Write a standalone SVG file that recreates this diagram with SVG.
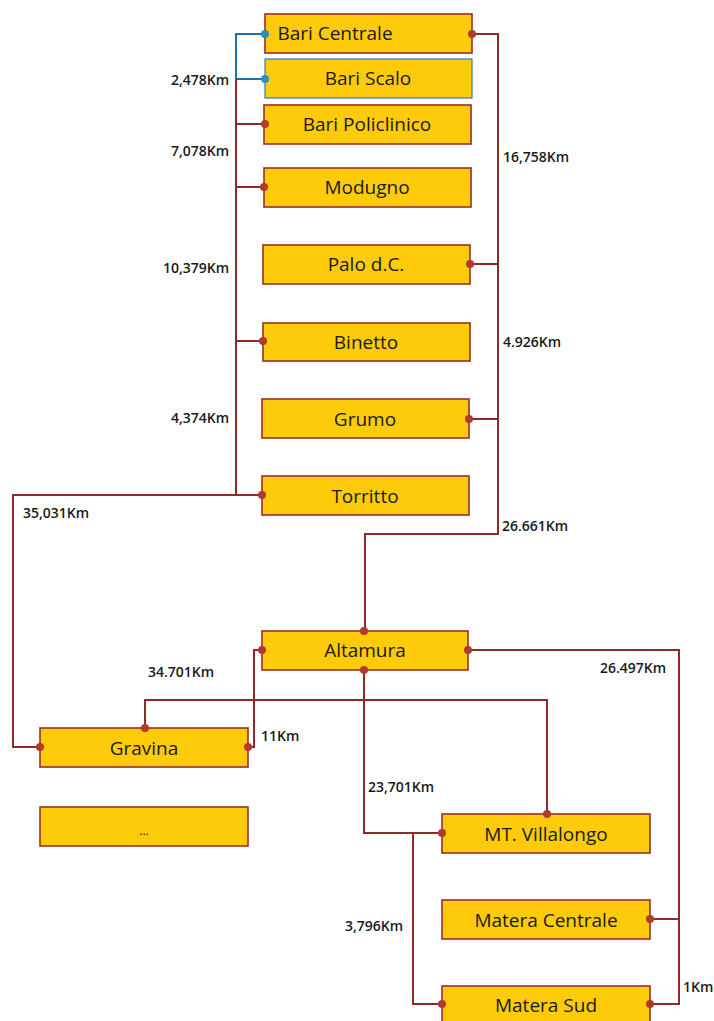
<svg xmlns="http://www.w3.org/2000/svg" width="714" height="1021" viewBox="0 0 714 1021">
<style>
.box{fill:#FDCB0A;stroke:#9A2F2A;stroke-width:1.6}
.boxb{fill:#FDCB0A;stroke:#2C7DB8;stroke-width:1.2}
.t{font-family:"Open Sans","Liberation Sans",sans-serif;font-size:19px;fill:#1a1a1a;text-anchor:middle;dominant-baseline:central}
.l{font-family:"Open Sans","Liberation Sans",sans-serif;font-size:14px;font-weight:600;fill:#1a1a1a;dominant-baseline:central}
.c{fill:none;stroke:#8E2A28;stroke-width:2}
.cb{fill:none;stroke:#1F6FA8;stroke-width:2}
.d{fill:#B23A2C}
.db{fill:#2A8FC8}
</style>
<rect width="714" height="1021" fill="#ffffff"/>
<g id="n-bari-centrale"><rect class="box" x="265" y="14" width="207" height="39"/><text class="t" x="335" y="33">Bari Centrale</text></g>
<g id="n-bari-scalo"><rect class="boxb" x="265" y="59" width="207" height="39"/><text class="t" x="368" y="78">Bari Scalo</text></g>
<g id="n-bari-policlinico"><rect class="box" x="264" y="105" width="207" height="39"/><text class="t" x="367" y="124">Bari Policlinico</text></g>
<g id="n-modugno"><rect class="box" x="264" y="168" width="207" height="39"/><text class="t" x="367" y="187">Modugno</text></g>
<g id="n-palo"><rect class="box" x="263" y="245" width="207" height="39"/><text class="t" x="366" y="264">Palo d.C.</text></g>
<g id="n-binetto"><rect class="box" x="263" y="323" width="207" height="38"/><text class="t" x="366" y="342">Binetto</text></g>
<g id="n-grumo"><rect class="box" x="262" y="399" width="207" height="39"/><text class="t" x="365" y="419">Grumo</text></g>
<g id="n-torritto"><rect class="box" x="262" y="476" width="207" height="39"/><text class="t" x="365" y="496">Torritto</text></g>
<g id="n-altamura"><rect class="box" x="262" y="631" width="206" height="39"/><text class="t" x="365" y="650">Altamura</text></g>
<g id="n-gravina"><rect class="box" x="40" y="728" width="208" height="39"/><text class="t" x="144" y="748">Gravina</text></g>
<g id="n-dots"><rect class="box" x="40" y="807" width="208" height="39"/><text class="t" x="144" y="830" style="font-size:12px">...</text></g>
<g id="n-villalongo"><rect class="box" x="442" y="814" width="208" height="39"/><text class="t" x="546" y="834">MT. Villalongo</text></g>
<g id="n-matera-centrale"><rect class="box" x="442" y="900" width="208" height="39"/><text class="t" x="546" y="920">Matera Centrale</text></g>
<g id="n-matera-sud"><rect class="box" x="442" y="986" width="208" height="39"/><text class="t" x="546" y="1005">Matera Sud</text></g>
<g id="connectors">
<path class="cb" d="M265,34 H236 V79 H265"/>
<path class="c" d="M236,79 V495 H262"/>
<path class="c" d="M236,124 H265 M236,187 H264 M236,341 H263"/>
<path class="c" d="M472,34 H498 V534 H365 V631"/>
<path class="c" d="M470,264 H498 M469,419 H498"/>
<path class="c" d="M236,495 H13 V747 H40"/>
<path class="c" d="M248,747 H254 V650 H262"/>
<path class="c" d="M145,728 V700 H547 V814"/>
<path class="c" d="M364,670 V833 H442"/>
<path class="c" d="M413,833 V1004 H442"/>
<path class="c" d="M468,650 H679 V1004 H650 M650,919 H679"/>
<circle class="db" cx="265" cy="34" r="4"/>
<circle class="db" cx="265" cy="79" r="4"/>
<circle class="d" cx="265" cy="124" r="4"/>
<circle class="d" cx="264" cy="187" r="4"/>
<circle class="d" cx="472" cy="34" r="4"/>
<circle class="d" cx="470" cy="264" r="4"/>
<circle class="d" cx="263" cy="341" r="4"/>
<circle class="d" cx="469" cy="419" r="4"/>
<circle class="d" cx="262" cy="495" r="4"/>
<circle class="d" cx="364" cy="631" r="4"/>
<circle class="d" cx="364" cy="670" r="4"/>
<circle class="d" cx="262" cy="650" r="4"/>
<circle class="d" cx="468" cy="650" r="4"/>
<circle class="d" cx="40" cy="747" r="4"/>
<circle class="d" cx="145" cy="728" r="4"/>
<circle class="d" cx="248" cy="747" r="4"/>
<circle class="d" cx="547" cy="814" r="4"/>
<circle class="d" cx="442" cy="833" r="4"/>
<circle class="d" cx="650" cy="919" r="4"/>
<circle class="d" cx="442" cy="1004" r="4"/>
<circle class="d" cx="650" cy="1004" r="4"/>
<text class="l" x="229" y="79" text-anchor="end">2,478Km</text>
<text class="l" x="229" y="150" text-anchor="end">7,078Km</text>
<text class="l" x="229" y="267" text-anchor="end">10,379Km</text>
<text class="l" x="229" y="417" text-anchor="end">4,374Km</text>
<text class="l" x="503" y="156">16,758Km</text>
<text class="l" x="503" y="341">4.926Km</text>
<text class="l" x="502" y="525">26.661Km</text>
<text class="l" x="23" y="512">35,031Km</text>
<text class="l" x="148" y="671">34.701Km</text>
<text class="l" x="261" y="735">11Km</text>
<text class="l" x="600" y="667">26.497Km</text>
<text class="l" x="368" y="786">23,701Km</text>
<text class="l" x="345" y="925">3,796Km</text>
<text class="l" x="683" y="986">1Km</text>
</g>
</svg>
